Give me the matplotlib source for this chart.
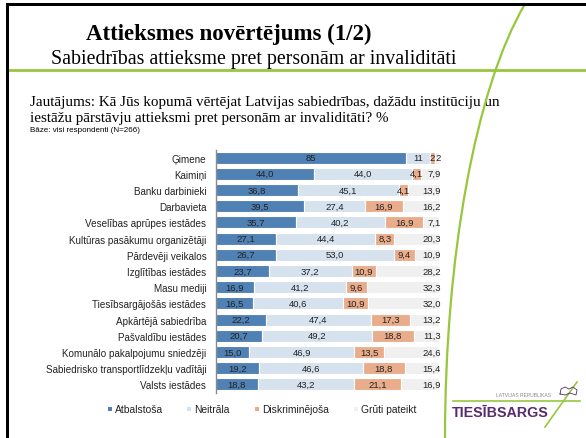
import numpy as np
import matplotlib
matplotlib.use("Agg")
import matplotlib.pyplot as plt
from matplotlib.patches import Rectangle, PathPatch
from matplotlib.path import Path

W, H = 586, 439

categories = [
    "Ģimene", "Kaimiņi", "Banku darbinieki", "Darbavieta",
    "Veselības aprūpes iestādes", "Kultūras pasākumu organizētāji",
    "Pārdevēji veikalos", "Izglītības iestādes", "Masu mediji",
    "Tiesībsargājošās iestādes", "Apkārtējā sabiedrība",
    "Pašvaldību iestādes", "Komunālo pakalpojumu sniedzēji",
    "Sabiedrisko transportlīdzekļu vadītāji", "Valsts iestādes",
]
atbalstosa = [85, 44.0, 36.8, 39.5, 35.7, 27.1, 26.7, 23.7, 16.9, 16.5, 22.2, 20.7, 15.0, 19.2, 18.8]
neitrala = [11, 44.0, 45.1, 27.4, 40.2, 44.4, 53.0, 37.2, 41.2, 40.6, 47.4, 49.2, 46.9, 46.6, 43.2]
diskriminejosa = [2, 4.1, 4.1, 16.9, 16.9, 8.3, 9.4, 10.9, 9.6, 10.9, 17.3, 18.8, 13.5, 18.8, 21.1]
gruti = [2, 7.9, 13.9, 16.2, 7.1, 20.3, 10.9, 28.2, 32.3, 32.0, 13.2, 11.3, 24.6, 15.4, 16.9]

series_names = ["Atbalstoša", "Neitrāla", "Diskriminējoša", "Grūti pateikt"]
series = [atbalstosa, neitrala, diskriminejosa, gruti]
colors = ["#4f81b4", "#d6e2ee", "#e9ad8c", "#f0f0f0"]

SANS = ["Liberation Sans", "DejaVu Sans"]
SERIF = ["Liberation Serif", "DejaVu Serif"]
TXT = "#222222"

fig = plt.figure(figsize=(W / 100, H / 100), dpi=100)
fig.patch.set_facecolor("white")


def fx(x):
    return x / W


def fy(y):
    return 1 - y / H


# ---- slide decoration ----
green = "#97c73c"
fig.add_artist(Rectangle((fx(6), fy(439)), fx(3), fy(4) - fy(439), transform=fig.transFigure,
                         color="black", lw=0, zorder=5))
fig.add_artist(Rectangle((fx(6), fy(6.5)), 1 - fx(6), fy(4) - fy(6.5), transform=fig.transFigure,
                         color="black", lw=0, zorder=5))
fig.add_artist(plt.Line2D([fx(9), 1], [fy(71), fy(71)], transform=fig.transFigure,
                          color=green, lw=2.0, zorder=4))
verts = [(fx(525), fy(5)), (fx(475), fy(90)), (fx(445), fy(260)), (fx(445), fy(439))]
path = Path(verts, [Path.MOVETO, Path.CURVE4, Path.CURVE4, Path.CURVE4])
fig.add_artist(PathPatch(path, transform=fig.transFigure, fill=False, edgecolor=green,
                         lw=1.6, zorder=4))

# ---- titles ----
fig.text(fx(229), fy(40), "Attieksmes novērtējums (1/2)", family=SERIF, weight="bold",
         fontsize=16.5, ha="center", va="baseline", color="black")
fig.text(fx(254), fy(64), "Sabiedrības attieksme pret personām ar invaliditāti", family=SERIF,
         fontsize=14.3, ha="center", va="baseline", color="black")
fig.text(fx(30), fy(106), "Jautājums: Kā Jūs kopumā vērtējat Latvijas sabiedrības, dažādu institūciju un",
         family=SERIF, fontsize=10.9, ha="left", va="baseline", color="black")
fig.text(fx(30), fy(122), "iestāžu pārstāvju attieksmi pret personām ar invaliditāti? %",
         family=SERIF, fontsize=10.9, ha="left", va="baseline", color="black")
fig.text(fx(30), fy(132), "Bāze: visi respondenti (N=266)", family=SANS, fontsize=5.8,
         ha="left", va="baseline", color="black")

# ---- chart ----
ax = fig.add_axes([fx(216), fy(393.5), fx(439) - fx(216), fy(150.5) - fy(393.5)])
y = np.arange(len(categories))
left = np.zeros(len(categories))
for name, vals, col in zip(series_names, series, colors):
    vals = np.array(vals, dtype=float)
    ax.barh(y, vals, left=left, height=0.74, color=col, edgecolor="white", lw=0.8, label=name)
    for i, (l, v) in enumerate(zip(left, vals)):
        if categories[i] == "Ģimene":
            s = f"{v:.0f}"
        else:
            s = f"{v:.1f}".replace(".", ",")
        if name == "Grūti pateikt":
            ax.text(100.8, i, s, ha="right", va="center", fontsize=6.8, family=SANS, color=TXT)
        else:
            ax.text(l + v / 2, i, s, ha="center", va="center", fontsize=6.8, family=SANS, color=TXT)
    left += vals

ax.set_xlim(0, 100)
ax.set_ylim(len(categories) - 0.5, -0.5)
ax.set_yticks(y)
ax.set_yticklabels(categories, family=SANS, fontsize=7.1, color=TXT)
ax.tick_params(axis="y", length=0, pad=7)
ax.set_xticks([])
for s in ["top", "right", "bottom"]:
    ax.spines[s].set_visible(False)
ax.spines["left"].set_color("#8a8a8a")
ax.spines["left"].set_linewidth(1.0)
ax.patch.set_alpha(0)

# ---- legend ----
leg_x = [108, 187, 255, 354]
for xm, name, col in zip(leg_x, series_names, colors):
    fig.add_artist(Rectangle((fx(xm), fy(412)), fx(4), fy(408) - fy(412), transform=fig.transFigure,
                             color=col, lw=0))
    fig.text(fx(xm + 7), fy(410), name, family=SANS, fontsize=7.4, ha="left", va="center", color=TXT)

# ---- logo ----
fig.text(fx(524), fy(397), "LATVIJAS REPUBLIKAS", family=SANS, stretch="condensed",
         fontsize=3.6, ha="center", va="baseline", color="#8a8a8a")
fig.add_artist(plt.Line2D([fx(453), fx(580)], [fy(402), fy(402)], transform=fig.transFigure,
                          color=green, lw=1.2))
fig.text(fx(500), fy(417), "TIESĪBSARGS", family=SANS, stretch="condensed", weight="bold",
         fontsize=10.3, ha="center", va="baseline", color="#5a2a6e")
fig.add_artist(plt.Line2D([fx(577), fx(545)], [fy(383), fy(428)], transform=fig.transFigure,
                          color=green, lw=1.2))
lv = np.array([[560, 395], [561, 390], [565, 388], [569, 390], [573, 388], [577, 391],
               [576, 396], [570, 394], [565, 396], [560, 395]], dtype=float)
fig.add_artist(plt.Line2D(lv[:, 0] / W, 1 - lv[:, 1] / H, transform=fig.transFigure,
                          color="#5a2a6e", lw=0.6))

fig.savefig("out.png", dpi=100, facecolor="white")
